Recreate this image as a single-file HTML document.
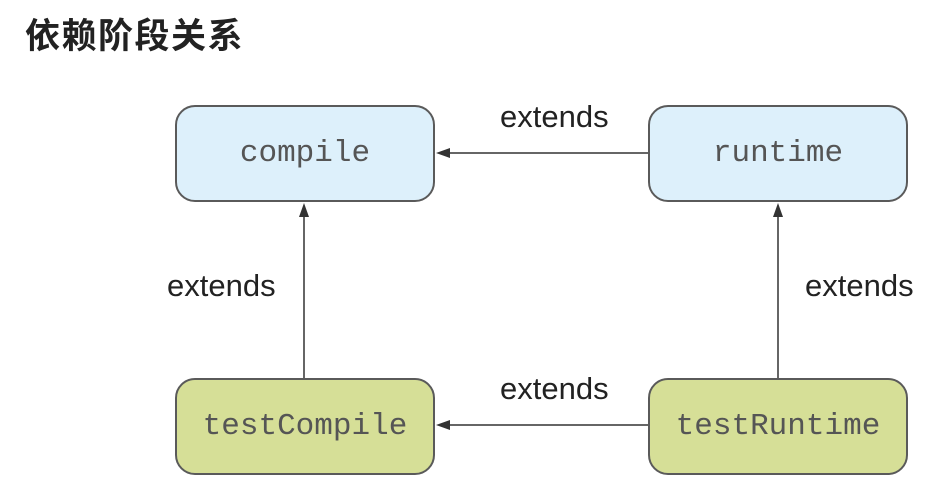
<!DOCTYPE html>
<html><head><meta charset="utf-8"><style>
body{margin:0;width:938px;height:493px;background:#fff;position:relative;overflow:hidden;font-family:"Liberation Sans",sans-serif}
.t{position:absolute;left:25px;top:8px;font:bold 35px "Liberation Sans","Noto Sans CJK SC",sans-serif;color:#222;letter-spacing:1.5px}
.b{position:absolute;width:256px;height:93px;border:2px solid #5a5a5a;border-radius:20px;box-sizing:content-box;display:flex;align-items:center;justify-content:center;font:31px "Liberation Mono",monospace;color:#555}
.blue{background:#ddf0fb}.green{background:#d6df97}
.l{position:absolute;font-size:31px;color:#222}
</style></head><body>
<div class="t">依赖阶段关系</div>
<div class="b blue" style="left:175px;top:105px">compile</div>
<div class="b blue" style="left:648px;top:105px">runtime</div>
<div class="b green" style="left:175px;top:378px">testCompile</div>
<div class="b green" style="left:648px;top:378px">testRuntime</div>
<svg width="938" height="493" style="position:absolute;left:0;top:0">
<g stroke="#333" stroke-width="1.5" fill="#333">
<line x1="648" y1="153" x2="445" y2="153"/><polygon points="436,153 450,148 450,158" stroke="none"/>
<line x1="648" y1="425" x2="445" y2="425"/><polygon points="436,425 450,420 450,430" stroke="none"/>
<line x1="304" y1="378" x2="304" y2="212"/><polygon points="304,203 299,217 309,217" stroke="none"/>
<line x1="778" y1="378" x2="778" y2="212"/><polygon points="778,203 773,217 783,217" stroke="none"/>
</g></svg>
<div class="l" style="left:500px;top:99px">extends</div>
<div class="l" style="left:167px;top:268px">extends</div>
<div class="l" style="left:805px;top:268px">extends</div>
<div class="l" style="left:500px;top:371px">extends</div>
</body></html>
